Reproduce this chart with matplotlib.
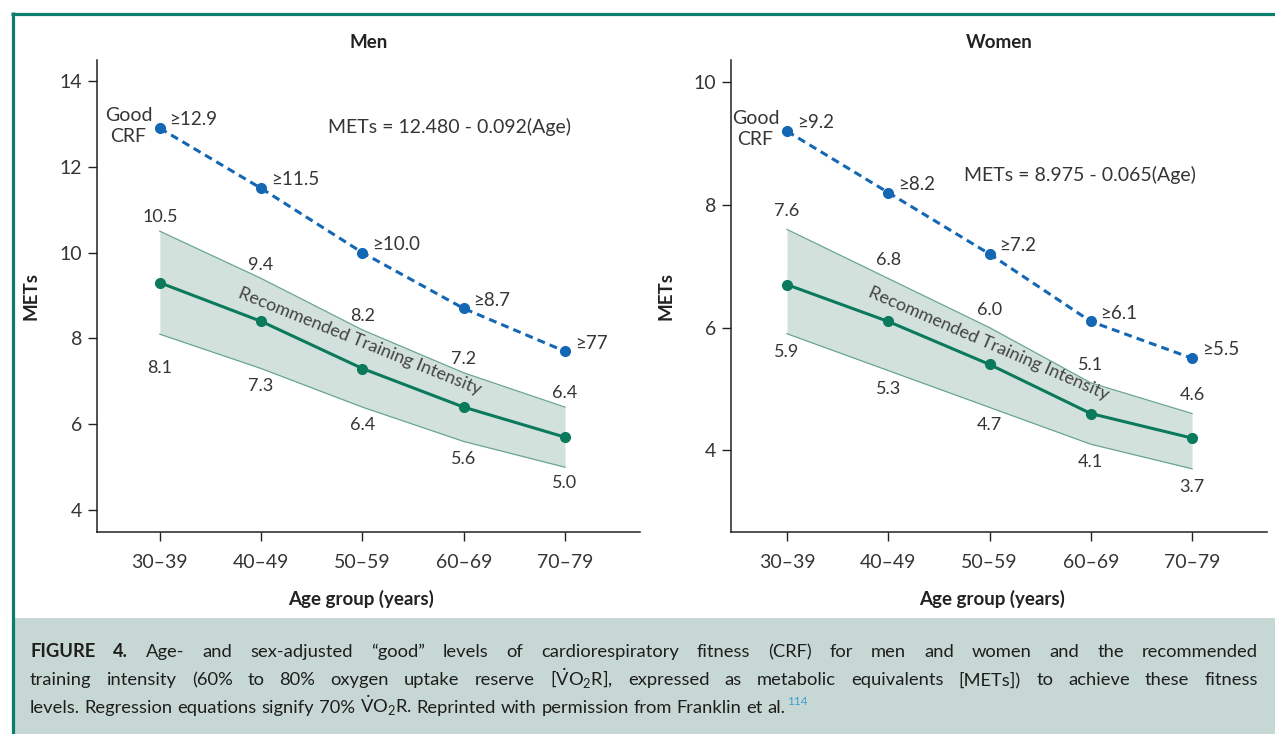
import matplotlib
matplotlib.use('Agg')
import matplotlib.pyplot as plt
from matplotlib.lines import Line2D
from matplotlib.patches import Rectangle

plt.rcParams['font.family'] = ['Lato', 'DejaVu Sans']
plt.rcParams['mathtext.fontset'] = 'custom'
plt.rcParams['mathtext.rm'] = 'Lato'
plt.rcParams['mathtext.it'] = 'Lato:italic'
plt.rcParams['mathtext.bf'] = 'Lato:bold'

# datos
ageGroups = ['30–39', '40–49', '50–59', '60–69', '70–79']

menGood = [12.9, 11.5, 10.0, 8.7, 7.7]
menGoodLabels = ['≥12.9', '≥11.5', '≥10.0', '≥8.7', '≥77']
menMid = [9.3, 8.4, 7.3, 6.4, 5.7]
menHigh = [10.5, 9.4, 8.2, 7.2, 6.4]
menLow = [8.1, 7.3, 6.4, 5.6, 5.0]
menEquation = 'METs = 12.480 - 0.092(Age)'

womenGood = [9.2, 8.2, 7.2, 6.1, 5.5]
womenGoodLabels = ['≥9.2', '≥8.2', '≥7.2', '≥6.1', '≥5.5']
womenMid = [6.7, 6.1, 5.4, 4.6, 4.2]
womenHigh = [7.6, 6.8, 6.0, 5.1, 4.6]
womenLow = [5.9, 5.3, 4.7, 4.1, 3.7]
womenEquation = 'METs = 8.975 - 0.065(Age)'

bandText = 'Recommended Training Intensity'

captionLine1 = 'Age- and sex-adjusted “good” levels of cardiorespiratory fitness (CRF) for men and women and the recommended'
captionLine2 = r'training intensity (60% to 80% oxygen uptake reserve [$\dot{\mathrm{V}}\mathrm{O}_2\mathrm{R}$], expressed as metabolic equivalents [METs]) to achieve these fitness'
captionLine3 = r'levels. Regression equations signify 70% $\dot{\mathrm{V}}\mathrm{O}_2\mathrm{R}$. Reprinted with permission from Franklin et al.'

BLUE = '#1467b3'
GREEN = '#0b7a5c'
BAND = '#d3e1dd'
BAND_EDGE = '#6aa592'
TEXT = '#353535'
FRAME = '#0b7d6b'
CAPTION_BG = '#c7d8d4'

W, H = 1275, 734


def drawPanel(ax, title, good, goodLabels, mid, high, low, equation, cfg):
    x = list(range(len(ageGroups)))

    ax.fill_between(x, low, high, color=BAND, lw=0, zorder=1)
    ax.plot(x, high, color=BAND_EDGE, lw=0.9, zorder=2)
    ax.plot(x, low, color=BAND_EDGE, lw=0.9, zorder=2)
    ax.plot(x, mid, color=GREEN, lw=2.2, marker='o', ms=7, zorder=3)
    ax.plot(x, good, color=BLUE, lw=2.2, ls=(0, (2.6, 1.7)), marker='o', ms=7, zorder=3)

    for i in x:
        ax.annotate(goodLabels[i], (i, good[i]), xytext=(7, 6), textcoords='offset points',
                    ha='left', va='center', fontsize=13.5, color=TEXT)
        ax.annotate(f'{high[i]:.1f}', (i, high[i]), xytext=(0, cfg['highOff']), textcoords='offset points',
                    ha='center', va='center', fontsize=13, color=TEXT)
        ax.annotate(f'{low[i]:.1f}', (i, low[i]), xytext=(0, cfg['lowOff'][i]), textcoords='offset points',
                    ha='center', va='center', fontsize=13, color=TEXT)

    ax.text(*cfg['crfPos'], 'Good\nCRF', ha='center', va='center', fontsize=14,
            linespacing=1.3, color=TEXT)
    ax.text(*cfg['eqPos'], equation, ha='center', va='center', fontsize=14, color=TEXT)
    ax.text(*cfg['bandPos'], bandText, rotation=cfg['angle'], rotation_mode='anchor',
            ha='center', va='center', fontsize=13, color='#444444', zorder=4)

    ax.set_xlim(cfg['xlim'])
    ax.set_ylim(cfg['ylim'])
    ax.set_xticks(x, ageGroups)
    ax.set_yticks(cfg['yticks'])
    for lado in ['top', 'right']:
        ax.spines[lado].set_visible(False)
    for lado in ['left', 'bottom']:
        ax.spines[lado].set_linewidth(1.1)
        ax.spines[lado].set_color('#222222')
    ax.tick_params(direction='out', length=6.5, width=1, color='#222222', labelsize=14, labelcolor=TEXT)
    ax.tick_params(axis='x', pad=9)
    ax.tick_params(axis='y', pad=4)

    ax.set_title(title, fontsize=13.5, fontweight='bold', color='#222222', pad=9)
    ax.set_ylabel('METs', fontsize=13.5, fontweight='bold', color='#222222')
    ax.set_xlabel('Age group (years)', fontsize=13.5, fontweight='bold', color='#222222')
    ax.yaxis.set_label_coords(cfg['ylabelX'], 0.5)
    ax.xaxis.set_label_coords(0.487, -0.123)


def writeCaption(fig):
    renderer = fig.canvas.get_renderer()
    size = 13.2
    xLeft, xRight = 30, 1258
    baselines = [657, 685, 713]

    tmp1 = fig.text(0, 0, 'a a', fontsize=size)
    tmp2 = fig.text(0, 0, 'aa', fontsize=size)
    spaceW = tmp1.get_window_extent(renderer).width - tmp2.get_window_extent(renderer).width
    tmp1.remove()
    tmp2.remove()

    lines = [(['FIGURE', '4.'] + captionLine1.split(), True),
             (captionLine2.split(), True),
             (captionLine3.split(), False)]

    for n, (words, justify) in enumerate(lines):
        y = 1 - baselines[n] / H
        texts = []
        for k, w in enumerate(words):
            bold = n == 0 and k < 2
            t = fig.text(0, y, w, fontsize=size, fontweight='bold' if bold else 'normal',
                         color='#1e1e1e', va='baseline', ha='left')
            texts.append(t)
        widths = [t.get_window_extent(renderer).width for t in texts]
        if justify:
            gap = (xRight - xLeft - sum(widths)) / (len(words) - 1)
        else:
            gap = spaceW
        xPix = xLeft
        for t, w in zip(texts, widths):
            t.set_x(xPix / W)
            xPix += w + gap

    # referencia 114
    fig.text((xPix - gap + 1.5) / W, 1 - (baselines[2] - 8) / H, '114', fontsize=8.5,
             color='#3aa0cc', va='baseline', ha='left')


def main():
    fig = plt.figure(figsize=(W / 100, H / 100), dpi=100)
    fig.patch.set_facecolor('white')

    fig.add_artist(Rectangle((14 / W, 0), 1 - 14 / W, 116 / H, transform=fig.transFigure,
                             facecolor=CAPTION_BG, edgecolor='none', zorder=0))
    fig.add_artist(Line2D([11 / W, 1], [1 - 13.5 / H] * 2, transform=fig.transFigure,
                          color=FRAME, lw=2.3, solid_capstyle='butt'))
    fig.add_artist(Line2D([12.5 / W] * 2, [0, 1 - 12 / H], transform=fig.transFigure,
                          color=FRAME, lw=2.3, solid_capstyle='butt'))

    axMen = fig.add_axes([97 / W, 1 - 532 / H, 543 / W, 472 / H])
    axWomen = fig.add_axes([731 / W, 1 - 532 / H, 536 / W, 472 / H])

    menCfg = {
        'xlim': (-0.62, 4.74), 'ylim': (3.49, 14.49), 'yticks': [4, 6, 8, 10, 12, 14],
        'highOff': 10, 'lowOff': [-24, -12.5, -13, -12.5, -11.5],
        'crfPos': (-0.31, 12.96), 'eqPos': (2.86, 12.93),
        'bandPos': (1.97, 7.93), 'angle': -22, 'ylabelX': -0.105,
    }
    womenCfg = {
        'xlim': (-0.553, 4.74), 'ylim': (2.67, 10.36), 'yticks': [4, 6, 8, 10],
        'highOff': 13, 'lowOff': [-13.5, -13, -12.5, -12.5, -13],
        'crfPos': (-0.31, 9.23), 'eqPos': (2.89, 8.49),
        'bandPos': (1.99, 5.74), 'angle': -23.5, 'ylabelX': -0.1045,
    }

    drawPanel(axMen, 'Men', menGood, menGoodLabels, menMid, menHigh, menLow, menEquation, menCfg)
    drawPanel(axWomen, 'Women', womenGood, womenGoodLabels, womenMid, womenHigh, womenLow,
              womenEquation, womenCfg)

    writeCaption(fig)

    fig.savefig('out.png', dpi=100)


if __name__ == '__main__':
    main()
